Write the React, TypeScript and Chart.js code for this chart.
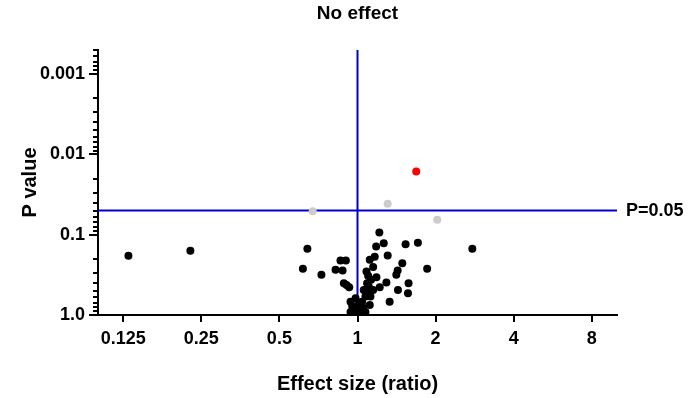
import React, { useEffect, useRef } from "react";
import { Chart, registerables } from "chart.js";

Chart.register(...registerables);

const FONT = '"Liberation Sans", Arial, sans-serif';

const xTicks = [0.125, 0.25, 0.5, 1, 2, 4, 8];
const xTickLabels = ["0.125", "0.25", "0.5", "1", "2", "4", "8"];
const yTicks = [0.001, 0.01, 0.1, 1];
const yTickLabels = ["0.001", "0.01", "0.1", "1.0"];

const blackX = [
  0.131, 0.227, 2.77, 1.214, 0.641, 1.262, 1.18, 1.532, 1.709, 1.307, 1.165, 1.115, 0.86, 0.902,
  1.488, 0.616, 0.823, 0.876, 1.149, 1.083, 1.428, 1.411, 1.855, 0.726, 1.099, 1.183, 0.886, 0.929,
  0.907, 1.089, 1.292, 1.218, 1.573, 1.432, 1.565, 1.149, 1.089, 1.33, 1.115, 0.983, 0.954, 1.042,
  1.027, 0.974, 1.0, 1.051, 1.073, 1.105, 1.128, 1.122, 1.057, 0.94, 1.012, 0.94, 1.073, 1.009,
  1.045, 0.965, 0.99, 1.03,
];
const blackP = [
  0.183, 0.158, 0.15, 0.0936, 0.15, 0.128, 0.14, 0.131, 0.126, 0.181, 0.188, 0.205, 0.209, 0.209,
  0.226, 0.266, 0.274, 0.279, 0.253, 0.288, 0.279, 0.316, 0.266, 0.316, 0.325, 0.338, 0.402, 0.451,
  0.422, 0.402, 0.394, 0.451, 0.402, 0.487, 0.536, 0.487, 0.536, 0.682, 0.75, 0.619, 0.772, 0.682,
  0.787, 0.866, 0.95, 0.849, 0.59, 0.443, 0.365, 0.59, 0.487, 0.682, 0.728, 0.917, 0.917, 1.0,
  0.794, 0.794, 0.98, 0.9,
];
const grayX = [0.672, 1.307, 2.03];
const grayP = [0.051, 0.041, 0.065];
const redX = [1.684];
const redP = [0.0163];

const xMin = 0.1;
const xMax = 10;
const yMin = 0.0005;
const yMax = 1;
const threshold = 0.05;
const noEffect = 1;

const toPts = (xs: number[], ps: number[]) => xs.map((x, i) => ({ x, y: ps[i] }));

const annotate = {
  id: "annotate",
  afterDraw(chart: any) {
    const { ctx, chartArea, scales } = chart;
    const xs = scales.x;
    const ys = scales.y;
    ctx.save();
    // minor ticks on y
    ctx.strokeStyle = "#000";
    ctx.lineWidth = 2;
    for (let k = -4; k <= 0; k++) {
      for (let m = 2; m <= 9; m++) {
        const v = m * Math.pow(10, k);
        if (v < yMin - 1e-12 || v > yMax) continue;
        const py = Math.round(ys.getPixelForValue(v));
        ctx.beginPath();
        ctx.moveTo(chartArea.left - 5, py);
        ctx.lineTo(chartArea.left, py);
        ctx.stroke();
      }
    }
    ctx.fillStyle = "#000";
    ctx.font = `bold 19px ${FONT}`;
    ctx.textAlign = "center";
    ctx.textBaseline = "middle";
    ctx.fillText("No effect", xs.getPixelForValue(noEffect), 14);
    ctx.font = `bold 18px ${FONT}`;
    ctx.textAlign = "left";
    ctx.fillText("P=0.05", chartArea.right + 9, ys.getPixelForValue(threshold));
    ctx.restore();
  },
};

export default function App() {
  const ref = useRef<HTMLCanvasElement>(null);
  useEffect(() => {
    document.body.style.margin = "0";
    const chart = new Chart(ref.current as HTMLCanvasElement, {
      type: "scatter",
      data: {
        datasets: [
          {
            data: toPts(redX, redP),
            backgroundColor: "#ff0000",
            borderWidth: 0,
            pointRadius: 4,
            order: 1,
          },
          {
            data: toPts(grayX, grayP),
            backgroundColor: "#cccccc",
            borderWidth: 0,
            pointRadius: 4,
            order: 1,
          },
          {
            data: toPts(blackX, blackP),
            backgroundColor: "#000000",
            borderWidth: 0,
            pointRadius: 4,
            order: 1,
          },
          {
            data: [
              { x: noEffect, y: yMin },
              { x: noEffect, y: yMax },
            ],
            showLine: true,
            borderColor: "#0000cc",
            borderWidth: 2,
            pointRadius: 0,
            order: 2,
          },
          {
            data: [
              { x: xMin, y: threshold },
              { x: xMax, y: threshold },
            ],
            showLine: true,
            borderColor: "#0000cc",
            borderWidth: 2,
            pointRadius: 0,
            order: 2,
          },
        ],
      },
      options: {
        animation: false,
        responsive: false,
        devicePixelRatio: 1,
        layout: { padding: { left: 0, top: 50, right: 76, bottom: 0 } },
        plugins: { legend: { display: false }, tooltip: { enabled: false } },
        scales: {
          x: {
            type: "logarithmic",
            min: xMin,
            max: xMax,
            afterBuildTicks: (s: any) => {
              s.ticks = xTicks.map((v) => ({ value: v }));
            },
            afterFit: (s: any) => {
              s.height = 83;
            },
            ticks: {
              autoSkip: false,
              maxRotation: 0,
              color: "#000",
              padding: 6,
              font: { family: FONT, size: 18, weight: "bold" },
              callback: (v: any) => {
                const i = xTicks.indexOf(Number(v));
                return i >= 0 ? xTickLabels[i] : "";
              },
            },
            grid: { drawOnChartArea: false, drawTicks: true, tickLength: 7, color: "#000", lineWidth: 2 },
            border: { color: "#000", width: 2 },
            title: {
              display: true,
              text: "Effect size (ratio)",
              color: "#000",
              font: { family: FONT, size: 20, weight: "bold" },
              padding: { top: 0, bottom: 2 },
            },
          },
          y: {
            type: "logarithmic",
            reverse: true,
            min: yMin,
            max: yMax,
            afterBuildTicks: (s: any) => {
              s.ticks = yTicks.map((v) => ({ value: v }));
            },
            afterFit: (s: any) => {
              s.width = 98;
            },
            ticks: {
              autoSkip: false,
              color: "#000",
              padding: 4,
              font: { family: FONT, size: 18, weight: "bold" },
              callback: (v: any) => {
                const i = yTicks.findIndex((t) => Math.abs(t - Number(v)) < t * 1e-6);
                return i >= 0 ? yTickLabels[i] : "";
              },
            },
            grid: { drawOnChartArea: false, drawTicks: true, tickLength: 9, color: "#000", lineWidth: 2 },
            border: { color: "#000", width: 2 },
            title: {
              display: true,
              text: "P value",
              color: "#000",
              font: { family: FONT, size: 20, weight: "bold" },
              padding: { top: 18, bottom: 0 },
            },
          },
        },
      },
      plugins: [annotate],
    });
    return () => chart.destroy();
  }, []);
  return (
    <div style={{ width: 693, height: 398 }}>
      <canvas ref={ref} width={693} height={398} />
    </div>
  );
}
